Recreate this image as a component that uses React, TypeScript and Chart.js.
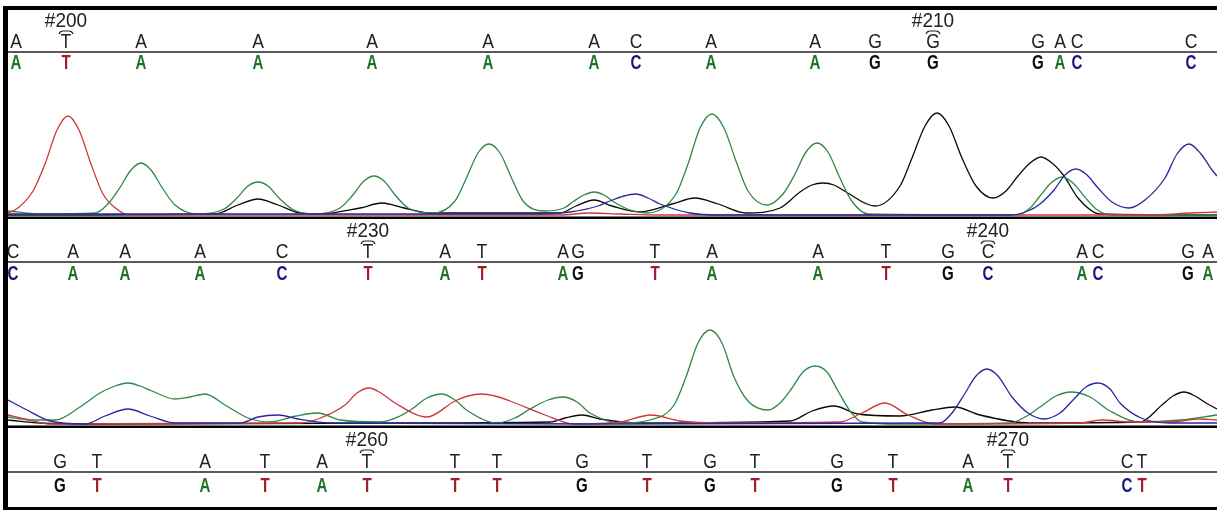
import React, { useEffect, useRef } from "react";
import { Chart, registerables } from "chart.js";
Chart.register(...registerables);

type Pt = [number, number];

// ---------- Panel 1 traces: [scan position, signal] ----------
const p1TraceA: Pt[] = [[8,5],[40,2],[95,3],[107,11],[119,27],[131,46],[141,53],[151,46],[163,27],[175,11],[197,2],[224,7],[236,17],[248,30],[258,34],[268,30],[280,17],[292,7],[313,2],[340,8],[352,20],[364,35],[374,40],[384,35],[396,20],[408,8],[433,3],[455,15],[466,37],[478,63],[489,72],[500,63],[512,37],[523,15],[545,5],[564,8],[574,15],[584,21],[594,24],[604,21],[614,14],[630,6],[647,3],[676,22],[688,52],[700,88],[712,102],[724,88],[736,55],[748,25],[767,11],[783,22],[795,42],[806,64],[817,73],[828,64],[839,40],[851,16],[868,2],[1017,1],[1030,8],[1040,20],[1051,33],[1062,39],[1073,33],[1084,20],[1096,7],[1112,1],[1217,1]];
const p1TraceC: Pt[] = [[8,2],[540,2],[570,4],[598,10],[610,15],[624,20],[636,22],[648,18],[660,12],[690,3],[720,1],[1010,1],[1028,5],[1040,12],[1054,26],[1065,41],[1076,47],[1087,41],[1098,28],[1112,14],[1129,8],[1145,16],[1165,38],[1177,62],[1189,72],[1201,62],[1212,46],[1217,40]];
const p1TraceG: Pt[] = [[8,1],[215,2],[238,11],[258,17],[278,11],[300,3],[320,2],[360,8],[382,13],[404,8],[430,3],[560,3],[576,10],[594,16],[612,10],[640,4],[672,12],[695,18],[718,12],[746,3],[780,8],[800,24],[812,31],[823,33],[834,31],[846,24],[875,10],[900,30],[912,58],[925,90],[937,103],[949,90],[962,58],[976,30],[993,18],[1006,25],[1018,40],[1030,53],[1041,59],[1052,53],[1064,40],[1078,18],[1100,2],[1217,1]];
const p1TraceT: Pt[] = [[8,3],[18,8],[33,25],[45,52],[57,86],[68,100],[79,86],[91,52],[103,22],[118,6],[130,1],[560,1],[590,3],[620,2],[660,1],[1150,1],[1190,3],[1217,4]];

// ---------- Panel 2 traces ----------
const p2TraceA: Pt[] = [[8,8],[30,5],[55,5],[80,18],[100,32],[115,39],[128,42],[140,39],[152,34],[175,26],[190,28],[205,31],[225,20],[248,7],[270,3],[296,9],[318,12],[340,5],[380,3],[400,9],[412,16],[427,27],[442,31],[455,25],[468,14],[497,2],[515,7],[530,16],[548,25],[563,28],[577,23],[590,12],[620,2],[650,5],[674,20],[686,48],[698,82],[710,95],[722,82],[734,48],[748,24],[768,15],[780,22],[792,37],[803,53],[815,59],[827,53],[838,34],[850,14],[862,3],[900,1],[1010,2],[1025,8],[1040,18],[1056,29],[1071,33],[1090,28],[1110,14],[1140,3],[1180,5],[1217,10]];
const p2TraceC: Pt[] = [[8,25],[25,16],[50,4],[85,1],[105,9],[128,16],[150,9],[175,2],[240,2],[258,8],[278,10],[298,6],[330,2],[600,1],[940,2],[952,12],[964,30],[976,49],[987,56],[998,49],[1012,28],[1028,12],[1044,6],[1060,12],[1074,26],[1086,38],[1098,42],[1110,36],[1120,22],[1141,7],[1170,2],[1217,2]];
const p2TraceG: Pt[] = [[8,5],[40,2],[100,1],[400,2],[550,3],[565,7],[582,10],[600,6],[640,2],[790,4],[812,14],[834,19],[858,11],[900,9],[932,15],[955,18],[980,10],[1030,2],[1140,3],[1162,20],[1173,29],[1184,33],[1195,29],[1206,22],[1217,16]];
const p2TraceT: Pt[] = [[8,10],[25,6],[50,1],[300,2],[318,6],[345,20],[357,32],[369,37],[381,32],[395,22],[427,8],[455,24],[468,29],[481,31],[495,29],[510,24],[545,10],[574,1],[620,3],[651,10],[680,4],[720,2],[840,3],[862,12],[885,22],[908,10],[935,1],[1080,2],[1102,5],[1130,3],[1170,3],[1200,6],[1217,5]];

// ---------- Base calls ----------
const p1BasePos = [16, 66, 141, 258, 372, 488, 594, 636, 711, 815, 875, 933, 1038, 1060, 1077, 1191];
const p1Bases = ["A","T","A","A","A","A","A","C","A","A","G","G","G","A","C","C"];
const p1TickPos = [66, 933];
const p1TickLabels = ["#200", "#210"];

const p2BasePos = [13, 73, 125, 200, 282, 368, 445, 482, 563, 578, 655, 712, 818, 886, 948, 988, 1082, 1098, 1188, 1208];
const p2Bases = ["C","A","A","A","C","T","A","T","A","G","T","A","A","T","G","C","A","C","G","A"];
const p2TickPos = [368, 988];
const p2TickLabels = ["#230", "#240"];

const p3BasePos = [60, 97, 205, 265, 322, 367, 455, 497, 582, 647, 710, 755, 837, 893, 968, 1008, 1127, 1142];
const p3Bases = ["G","T","A","T","A","T","T","T","G","T","G","T","G","T","A","T","C","T"];
const p3TickPos = [367, 1008];
const p3TickLabels = ["#260", "#270"];

const TRACE_COLORS: Record<string, string> = { A: "rgb(48,135,70)", C: "rgb(40,40,160)", G: "rgb(10,10,10)", T: "rgb(205,55,60)" };
const CALL_COLORS: Record<string, string> = { A: "rgb(28,115,38)", C: "rgb(22,22,125)", G: "rgb(12,12,12)", T: "rgb(160,30,42)" };

interface PanelProps {
  top: number;
  height: number;
  plotTop: number;
  plotBottom: number;
  traces: { base: string; data: Pt[] }[];
  basePos: number[];
  bases: string[];
  tickPos: number[];
  tickLabels: string[];
  tickY: number;
  callY: number;
  lineY: number;
  baseY: number;
  sepY: number | null;
  topBorder: boolean;
  bottomBorderY: number | null;
}

function drawSqueezed(ctx: CanvasRenderingContext2D, text: string, x: number, y: number, sx: number) {
  ctx.save();
  ctx.translate(x, y);
  ctx.scale(sx, 1);
  ctx.fillText(text, 0, 0);
  ctx.restore();
}

function Panel(p: PanelProps) {
  const ref = useRef<HTMLCanvasElement | null>(null);
  useEffect(() => {
    if (!ref.current) return;
    const o = p.top;
    const header = {
      id: "header",
      afterDraw(chart: any) {
        const ctx: CanvasRenderingContext2D = chart.ctx;
        const xs = chart.scales.x;
        const W = chart.width;
        ctx.save();
        ctx.fillStyle = "#000";
        if (p.sepY !== null) ctx.fillRect(8, p.sepY - o, W - 8, 2.5);
        ctx.strokeStyle = "#222";
        ctx.lineWidth = 1.3;
        ctx.beginPath();
        ctx.moveTo(8, p.lineY - o);
        ctx.lineTo(W, p.lineY - o);
        ctx.stroke();
        ctx.fillStyle = "#222";
        ctx.textAlign = "center";
        ctx.textBaseline = "alphabetic";
        ctx.font = "20px 'Liberation Sans', Arial, sans-serif";
        p.tickPos.forEach((pos, i) => {
          const x = xs.getPixelForValue(pos);
          drawSqueezed(ctx, p.tickLabels[i], x, p.tickY - o, 0.95);
          const y = p.tickY - o + 4;
          ctx.lineWidth = 1.2;
          ctx.beginPath();
          ctx.moveTo(x - 7, y + 3);
          ctx.quadraticCurveTo(x - 6, y, x - 3, y);
          ctx.lineTo(x + 3, y);
          ctx.quadraticCurveTo(x + 6, y, x + 7, y + 3);
          ctx.stroke();
        });
        p.basePos.forEach((pos, i) => {
          drawSqueezed(ctx, p.bases[i], xs.getPixelForValue(pos), p.callY - o, 0.88);
        });
        ctx.font = "bold 21px 'Liberation Sans', Arial, sans-serif";
        p.basePos.forEach((pos, i) => {
          ctx.fillStyle = CALL_COLORS[p.bases[i]];
          drawSqueezed(ctx, p.bases[i], xs.getPixelForValue(pos), p.baseY - o, 0.72);
        });
        ctx.fillStyle = "#000";
        const fy = p.topBorder ? 6 : 0;
        const fh = p.bottomBorderY !== null ? p.bottomBorderY - o + 3 - fy : chart.height - fy;
        ctx.fillRect(3, fy, 5, fh);
        if (p.topBorder) ctx.fillRect(3, 6, W - 3, 4);
        if (p.bottomBorderY !== null) ctx.fillRect(3, p.bottomBorderY - o, W - 3, 3);
        ctx.restore();
      },
    };
    const chart = new Chart(ref.current, {
      type: "line",
      data: {
        datasets: p.traces.map((t) => ({
          label: t.base,
          data: t.data.map(([x, y]) => ({ x, y })),
          borderColor: TRACE_COLORS[t.base],
          borderWidth: 1.3,
          pointRadius: 0,
          fill: false,
          cubicInterpolationMode: "monotone" as const,
        })),
      },
      options: {
        animation: false,
        responsive: false,
        events: [],
        layout: { padding: { left: 8, right: 0, top: p.plotTop - o, bottom: o + p.height - p.plotBottom } },
        scales: {
          x: { type: "linear", min: 8, max: 1217, display: false },
          y: { min: 0, max: p.plotBottom - p.plotTop, display: false },
        },
        plugins: { legend: { display: false }, tooltip: { enabled: false } },
      },
      plugins: [header],
    });
    return () => chart.destroy();
  }, []);
  return (
    <canvas
      ref={ref}
      width={1217}
      height={p.height}
      style={{ position: "absolute", left: 0, top: p.top, width: 1217, height: p.height, display: "block" }}
    />
  );
}

export default function App() {
  return (
    <div style={{ position: "absolute", left: 0, top: 0, width: 1217, height: 511, background: "#fff", overflow: "hidden" }}>
      <Panel
        top={0} height={219} plotTop={106} plotBottom={216}
        traces={[{ base: "C", data: p1TraceC }, { base: "T", data: p1TraceT }, { base: "A", data: p1TraceA }, { base: "G", data: p1TraceG }]}
        basePos={p1BasePos} bases={p1Bases} tickPos={p1TickPos} tickLabels={p1TickLabels}
        tickY={27} callY={48} lineY={52} baseY={69} sepY={216.5} topBorder={true} bottomBorderY={null}
      />
      <Panel
        top={219} height={209} plotTop={315} plotBottom={425}
        traces={[{ base: "C", data: p2TraceC }, { base: "T", data: p2TraceT }, { base: "A", data: p2TraceA }, { base: "G", data: p2TraceG }]}
        basePos={p2BasePos} bases={p2Bases} tickPos={p2TickPos} tickLabels={p2TickLabels}
        tickY={237} callY={258} lineY={262} baseY={280} sepY={425.5} topBorder={false} bottomBorderY={null}
      />
      <Panel
        top={428} height={83} plotTop={500} plotBottom={504}
        traces={[]}
        basePos={p3BasePos} bases={p3Bases} tickPos={p3TickPos} tickLabels={p3TickLabels}
        tickY={446} callY={468} lineY={472} baseY={492} sepY={null} topBorder={false} bottomBorderY={507}
      />
    </div>
  );
}
